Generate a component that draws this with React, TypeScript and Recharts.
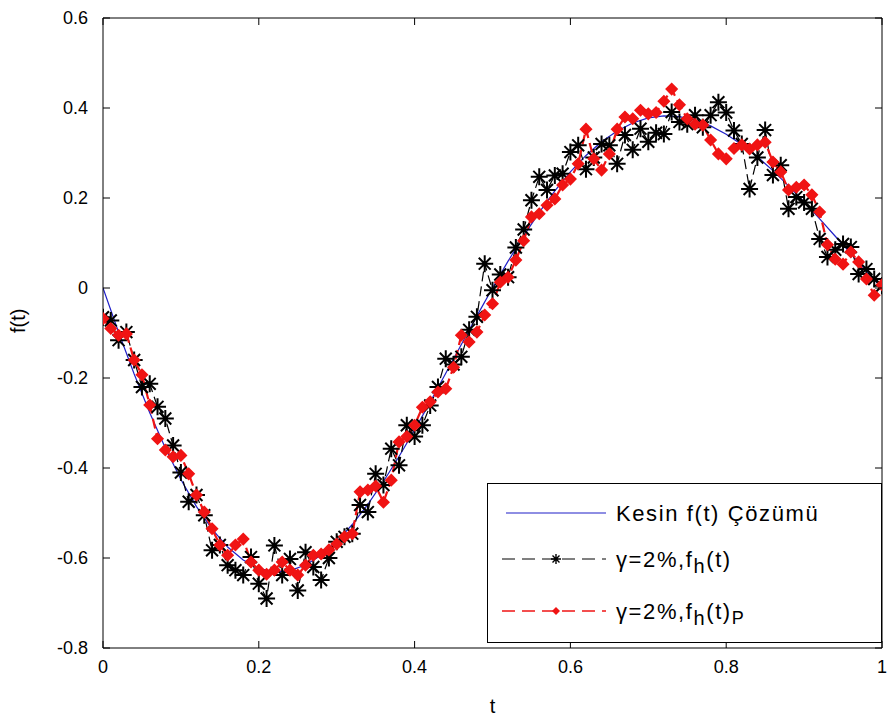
import { LineChart, Line, XAxis, YAxis } from 'recharts'

// grid of the exact solution (step 0.02)
const tCoarse = [
  0, 0.02, 0.04, 0.06, 0.08, 0.1, 0.12, 0.14, 0.16, 0.18,
  0.2, 0.22, 0.24, 0.26, 0.28, 0.3, 0.32, 0.34, 0.36, 0.38,
  0.4, 0.42, 0.44, 0.46, 0.48, 0.5, 0.52, 0.54, 0.56, 0.58,
  0.6, 0.62, 0.64, 0.66, 0.68, 0.7, 0.72, 0.74, 0.76, 0.78,
  0.8, 0.82, 0.84, 0.86, 0.88, 0.9, 0.92, 0.94, 0.96, 0.98, 1,
]

const exactF = [
  0, -0.0983, -0.1912, -0.2773, -0.3558, -0.4255, -0.4857, -0.5359, -0.5756, -0.6046,
  -0.6229, -0.6306, -0.628, -0.6156, -0.5939, -0.5637, -0.5256, -0.4808, -0.4301, -0.3745,
  -0.3152, -0.2532, -0.1896, -0.1256, -0.062, 0, 0.0596, 0.1159, 0.1682, 0.2158,
  0.2581, 0.2946, 0.325, 0.3491, 0.3667, 0.3779, 0.3825, 0.3809, 0.3734, 0.3602,
  0.3419, 0.3188, 0.2916, 0.2609, 0.2271, 0.1912, 0.1536, 0.115, 0.0762, 0.0376, 0,
]

// grid of the noisy reconstructions (step 0.01)
const tFine = [
  0, 0.01, 0.02, 0.03, 0.04, 0.05, 0.06, 0.07, 0.08, 0.09,
  0.1, 0.11, 0.12, 0.13, 0.14, 0.15, 0.16, 0.17, 0.18, 0.19,
  0.2, 0.21, 0.22, 0.23, 0.24, 0.25, 0.26, 0.27, 0.28, 0.29,
  0.3, 0.31, 0.32, 0.33, 0.34, 0.35, 0.36, 0.37, 0.38, 0.39,
  0.4, 0.41, 0.42, 0.43, 0.44, 0.45, 0.46, 0.47, 0.48, 0.49,
  0.5, 0.51, 0.52, 0.53, 0.54, 0.55, 0.56, 0.57, 0.58, 0.59,
  0.6, 0.61, 0.62, 0.63, 0.64, 0.65, 0.66, 0.67, 0.68, 0.69,
  0.7, 0.71, 0.72, 0.73, 0.74, 0.75, 0.76, 0.77, 0.78, 0.79,
  0.8, 0.81, 0.82, 0.83, 0.84, 0.85, 0.86, 0.87, 0.88, 0.89,
  0.9, 0.91, 0.92, 0.93, 0.94, 0.95, 0.96, 0.97, 0.98, 0.99, 1,
]

const fhNoisy = [
  -0.065, -0.072, -0.116, -0.098, -0.16, -0.22, -0.213, -0.264, -0.29, -0.35,
  -0.41, -0.475, -0.46, -0.505, -0.583, -0.571, -0.616, -0.627, -0.638, -0.598,
  -0.657, -0.69, -0.572, -0.638, -0.602, -0.672, -0.587, -0.62, -0.649, -0.6,
  -0.564, -0.553, -0.546, -0.482, -0.498, -0.413, -0.438, -0.357, -0.394, -0.305,
  -0.33, -0.305, -0.261, -0.22, -0.157, -0.17, -0.153, -0.093, -0.064, 0.054,
  -0.005, 0.03, 0.024, 0.09, 0.13, 0.195, 0.247, 0.218, 0.25, 0.254,
  0.302, 0.317, 0.264, 0.29, 0.32, 0.317, 0.276, 0.34, 0.307, 0.354,
  0.325, 0.345, 0.342, 0.391, 0.369, 0.364, 0.384, 0.357, 0.384, 0.413,
  0.39, 0.35, 0.32, 0.22, 0.29, 0.351, 0.251, 0.273, 0.176, 0.202,
  0.19, 0.176, 0.109, 0.069, 0.085, 0.098, 0.091, 0.031, 0.042, 0.02, 0.005,
]

const fhP = [
  -0.068, -0.09, -0.105, -0.102, -0.16, -0.193, -0.26, -0.335, -0.36, -0.375,
  -0.372, -0.413, -0.46, -0.498, -0.535, -0.571, -0.594, -0.571, -0.558, -0.609,
  -0.627, -0.636, -0.627, -0.609, -0.627, -0.638, -0.616, -0.594, -0.591, -0.582,
  -0.569, -0.553, -0.546, -0.453, -0.449, -0.44, -0.476, -0.427, -0.342, -0.33,
  -0.305, -0.265, -0.253, -0.231, -0.224, -0.176, -0.105, -0.12, -0.098, -0.06,
  -0.035, 0.013, 0.024, 0.062, 0.105, 0.158, 0.165, 0.184, 0.198, 0.229,
  0.242, 0.276, 0.353, 0.287, 0.262, 0.298, 0.353, 0.38, 0.376, 0.395,
  0.387, 0.39, 0.415, 0.442, 0.407, 0.376, 0.364, 0.362, 0.329, 0.298,
  0.287, 0.31, 0.318, 0.309, 0.318, 0.324, 0.28, 0.258, 0.218, 0.224,
  0.229, 0.207, 0.169, 0.096, 0.064, 0.053, 0.08, 0.058, 0.02, -0.016, 0.007,
]

const xTicks = [0, 0.2, 0.4, 0.6, 0.8, 1]
const yTicks = [-0.8, -0.6, -0.4, -0.2, 0, 0.2, 0.4, 0.6]

const exactData = tCoarse.map((t, i) => ({ t, f: exactF[i] }))
const noisyData = tFine.map((t, i) => ({ t, fh: fhNoisy[i], fp: fhP[i] }))

const FONT = '"Liberation Sans", Arial, Helvetica, sans-serif'
const BLUE = '#1f1fc8'
const RED = '#f01414'

function LeftTick({ x, y, payload }: any) {
  return (
    <g>
      <line x1={x + 15} x2={x + 22} y1={y} y2={y} stroke="#000" />
      <text x={x} y={y} textAnchor="end" dominantBaseline="central"
        fontSize={18} fontFamily={FONT} fill="#000">{payload.value}</text>
    </g>
  )
}

function BottomTick({ x, y, payload }: any) {
  return (
    <g>
      <line x1={x} x2={x} y1={y - 12} y2={y - 19} stroke="#000" />
      <text x={x} y={y} textAnchor="middle" dominantBaseline="hanging"
        fontSize={18} fontFamily={FONT} fill="#000">{payload.value}</text>
    </g>
  )
}

function TopTick({ x, y }: any) {
  return <line x1={x} x2={x} y1={y} y2={y + 7} stroke="#000" />
}

function RightTick({ x, y }: any) {
  return <line x1={x - 7} x2={x} y1={y} y2={y} stroke="#000" />
}

function starPath(cx: number, cy: number, r: number) {
  const d = r * 0.7
  return `M${cx - r},${cy}L${cx + r},${cy}M${cx},${cy - r}L${cx},${cy + r}` +
    `M${cx - d},${cy - d}L${cx + d},${cy + d}M${cx - d},${cy + d}L${cx + d},${cy - d}`
}

function diamondPath(cx: number, cy: number, r: number) {
  return `M${cx},${cy - r}L${cx + r},${cy}L${cx},${cy + r}L${cx - r},${cy}Z`
}

function StarDot(props: any) {
  const { cx, cy, index } = props
  if (cx == null || cy == null) return <g key={`s${index}`} />
  return <path key={`s${index}`} d={starPath(cx, cy, 8.5)} stroke="#000" strokeWidth={2} fill="none" />
}

function DiamondDot(props: any) {
  const { cx, cy, index } = props
  if (cx == null || cy == null) return <g key={`d${index}`} />
  return <path key={`d${index}`} d={diamondPath(cx, cy, 5.5)} stroke={RED} strokeWidth={1.5} fill={RED} />
}

function LegendBox() {
  const textProps = { fontSize: 22, fontFamily: FONT, fill: '#000', letterSpacing: 1.6 }
  return (
    <div style={{
      position: 'absolute', left: 487, top: 483, width: 395, height: 160,
      border: '1px solid #000', background: '#fff', boxSizing: 'border-box',
    }}>
      <svg width={393} height={158}>
        <line x1={18} x2={118} y1={29} y2={29} stroke={BLUE} strokeWidth={1.2} />
        <text x={128} y={29} dominantBaseline="central" {...textProps}>Kesin f(t) Çözümü</text>

        <line x1={14} x2={118} y1={75} y2={75} stroke="#000" strokeWidth={1} strokeDasharray="13 7" />
        <path d={starPath(68, 75, 5)} stroke="#000" strokeWidth={1.4} fill="none" />
        <text x={128} y={75} dominantBaseline="central" {...textProps}>
          γ=2%,f<tspan dy={7} fontSize={20}>h</tspan><tspan dy={-7}>(t)</tspan>
        </text>

        <line x1={14} x2={118} y1={127} y2={127} stroke={RED} strokeWidth={1.6} strokeDasharray="13 7" />
        <path d={diamondPath(68, 127, 4)} fill={RED} />
        <text x={128} y={127} dominantBaseline="central" {...textProps}>
          γ=2%,f<tspan dy={7} fontSize={20}>h</tspan><tspan dy={-7}>(t)</tspan><tspan dy={7} fontSize={18}>P</tspan>
        </text>
      </svg>
    </div>
  )
}

export default function App() {
  return (
    <div style={{ position: 'absolute', left: 0, top: 0, width: 887, height: 723, background: '#fff' }}>
      <LineChart width={887} height={723} margin={{ top: 0, right: 0, bottom: 0, left: 0 }}>
        <XAxis
          xAxisId="b" dataKey="t" type="number" domain={[0, 1]} ticks={xTicks}
          allowDataOverflow height={75} tickSize={0} tickMargin={12}
          axisLine={{ stroke: '#000' }} tick={<BottomTick />}
          label={{ value: 't', position: 'insideBottom', offset: 10, fontSize: 20, fontFamily: FONT, fill: '#000' }}
        />
        <XAxis
          xAxisId="top" orientation="top" dataKey="t" type="number" domain={[0, 1]} ticks={xTicks}
          allowDataOverflow height={18} tickSize={0} tickMargin={0}
          axisLine={{ stroke: '#000' }} tick={<TopTick />}
        />
        <YAxis
          yAxisId="l" type="number" domain={[-0.8, 0.6]} ticks={yTicks}
          allowDataOverflow width={103} tickSize={0} tickMargin={15}
          axisLine={{ stroke: '#000' }} tick={<LeftTick />}
          label={{ value: 'f(t)', angle: -90, position: 'insideLeft', offset: 18, fontSize: 20, fontFamily: FONT, fill: '#000' }}
        />
        <YAxis
          yAxisId="right" orientation="right" type="number" domain={[-0.8, 0.6]} ticks={yTicks}
          allowDataOverflow width={5} tickSize={0} tickMargin={0}
          axisLine={{ stroke: '#000' }} tick={<RightTick />}
        />

        <Line
          data={exactData} dataKey="f" xAxisId="top" yAxisId="right"
          type="linear" stroke={BLUE} strokeWidth={1.2} dot={false} activeDot={false}
          isAnimationActive={false}
        />
        <Line
          data={noisyData} dataKey="fh" xAxisId="b" yAxisId="l"
          type="linear" stroke="#000" strokeWidth={1.2} strokeDasharray="10 5"
          dot={StarDot} activeDot={false} isAnimationActive={false}
        />
        <Line
          data={noisyData} dataKey="fp" xAxisId="b" yAxisId="l"
          type="linear" stroke={RED} strokeWidth={2.2} strokeDasharray="10 5"
          dot={DiamondDot} activeDot={false} isAnimationActive={false}
        />
      </LineChart>
      <LegendBox />
    </div>
  )
}
